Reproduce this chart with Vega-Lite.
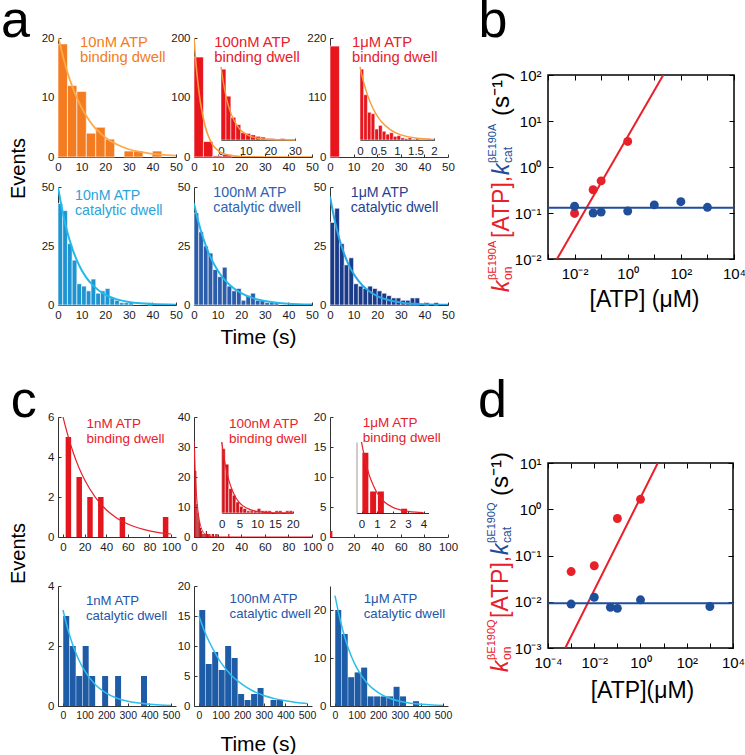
{
"$schema":"https://vega.github.io/schema/vega-lite/v6.json",
"padding":{"left":0,"top":-6,"right":0,"bottom":0},
"config":{"font":"Liberation Sans","view":{"stroke":null},
"axis":{"labelFont":"Liberation Sans","labelFontSize":11.5,"labelColor":"#1a1a1a","domainColor":"#333","tickColor":"#333","tickSize":-3,"labelPadding":7,"labelFlush":false,"labelOverlap":false,"grid":false,"tickCount":20,"titleFont":"Liberation Sans","titleFontWeight":"normal","titleColor":"#000"},
"title":{"font":"Liberation Sans","fontWeight":"normal","color":"#000"},
"text":{"font":"Liberation Sans"}},
"datasets":{
"a1b":[{"t0":0,"t1":4,"n":19},{"t0":4,"t1":8,"n":12},{"t0":8,"t1":12,"n":11},{"t0":12,"t1":16,"n":4},{"t0":16,"t1":20,"n":5},{"t0":20,"t1":24,"n":3},{"t0":28,"t1":32,"n":1},{"t0":32,"t1":36,"n":1},{"t0":40,"t1":44,"n":1}],
"a1f":[{"t":0,"n":20.5},{"t":2.5,"n":16.3},{"t":5,"n":13.0},{"t":7.5,"n":10.4},{"t":10,"n":8.3},{"t":12.5,"n":6.6},{"t":15,"n":5.2},{"t":17.5,"n":4.2},{"t":20,"n":3.3},{"t":25,"n":2.1},{"t":30,"n":1.3},{"t":35,"n":0.85},{"t":40,"n":0.54},{"t":45,"n":0.34},{"t":50,"n":0.22}],
"a2b":[{"t0":0,"t1":4,"n":168},{"t0":4,"t1":8,"n":26},{"t0":8,"t1":12,"n":2},{"t0":12,"t1":16,"n":4}],
"a2f":[{"t":0,"n":200},{"t":1,"n":150},{"t":2,"n":113},{"t":3,"n":85},{"t":4,"n":64},{"t":5,"n":48},{"t":6,"n":36},{"t":8,"n":20},{"t":10,"n":11.5},{"t":12,"n":6.5},{"t":15,"n":2.8},{"t":20,"n":0.7},{"t":30,"n":0.05},{"t":50,"n":0}],
"a2i":[{"t0":0,"t1":2,"n":97},{"t0":2,"t1":4,"n":60},{"t0":4,"t1":6,"n":31},{"t0":6,"t1":8,"n":21},{"t0":8,"t1":10,"n":10},{"t0":10,"t1":12,"n":9},{"t0":12,"t1":14,"n":7},{"t0":14,"t1":16,"n":5},{"t0":16,"t1":18,"n":4},{"t0":18,"t1":20,"n":2},{"t0":20,"t1":22,"n":2},{"t0":22,"t1":24,"n":1},{"t0":24,"t1":26,"n":2},{"t0":26,"t1":28,"n":1},{"t0":28,"t1":30,"n":1}],
"a2if":[{"t":0,"n":100},{"t":1,"n":77.9},{"t":2,"n":60.7},{"t":3,"n":47.2},{"t":4,"n":36.8},{"t":6,"n":22.3},{"t":8,"n":13.5},{"t":10,"n":8.2},{"t":12,"n":5.0},{"t":15,"n":2.4},{"t":20,"n":0.7},{"t":25,"n":0.2},{"t":30,"n":0.05}],
"a3b":[{"t0":0,"t1":4,"n":205}],
"a3i":[{"t0":0,"t1":0.1,"n":97},{"t0":0.1,"t1":0.2,"n":62},{"t0":0.2,"t1":0.3,"n":38},{"t0":0.3,"t1":0.4,"n":36},{"t0":0.4,"t1":0.5,"n":15},{"t0":0.5,"t1":0.6,"n":20},{"t0":0.6,"t1":0.7,"n":12},{"t0":0.7,"t1":0.8,"n":8},{"t0":0.8,"t1":0.9,"n":10},{"t0":0.9,"t1":1.0,"n":5},{"t0":1.0,"t1":1.1,"n":6},{"t0":1.1,"t1":1.2,"n":3},{"t0":1.2,"t1":1.3,"n":2},{"t0":1.3,"t1":1.4,"n":3},{"t0":1.4,"t1":1.5,"n":1},{"t0":1.5,"t1":1.6,"n":2},{"t0":1.6,"t1":1.7,"n":1},{"t0":1.7,"t1":1.8,"n":1},{"t0":1.8,"t1":1.9,"n":2},{"t0":1.9,"t1":2.0,"n":1}],
"a3if":[{"t":0,"n":100},{"t":0.1,"n":78.8},{"t":0.2,"n":62.1},{"t":0.3,"n":49.0},{"t":0.4,"n":38.6},{"t":0.5,"n":30.4},{"t":0.6,"n":24.0},{"t":0.8,"n":14.9},{"t":1.0,"n":9.2},{"t":1.2,"n":5.7},{"t":1.5,"n":2.8},{"t":2.0,"n":0.85}],
"a4b":[{"t0":0,"t1":2,"n":43},{"t0":2,"t1":4,"n":40},{"t0":4,"t1":6,"n":26},{"t0":6,"t1":8,"n":19},{"t0":8,"t1":10,"n":9},{"t0":10,"t1":12,"n":8},{"t0":12,"t1":14,"n":6},{"t0":14,"t1":16,"n":11},{"t0":16,"t1":18,"n":5},{"t0":18,"t1":20,"n":6},{"t0":20,"t1":22,"n":7},{"t0":22,"t1":24,"n":3},{"t0":24,"t1":26,"n":2},{"t0":26,"t1":28,"n":1},{"t0":28,"t1":30,"n":1},{"t0":30,"t1":32,"n":1},{"t0":38,"t1":40,"n":1}],
"a4f":[{"t":0,"n":50},{"t":2,"n":39.2},{"t":4,"n":30.7},{"t":6,"n":24.1},{"t":8,"n":18.9},{"t":10,"n":14.8},{"t":12,"n":11.6},{"t":15,"n":8.1},{"t":20,"n":4.4},{"t":25,"n":2.4},{"t":30,"n":1.3},{"t":35,"n":0.7},{"t":40,"n":0.38},{"t":50,"n":0.11}],
"a5b":[{"t0":0,"t1":2,"n":39},{"t0":2,"t1":4,"n":31},{"t0":4,"t1":6,"n":25},{"t0":6,"t1":8,"n":22},{"t0":8,"t1":10,"n":15},{"t0":10,"t1":12,"n":12},{"t0":12,"t1":14,"n":16},{"t0":14,"t1":16,"n":8},{"t0":16,"t1":18,"n":6},{"t0":18,"t1":20,"n":7},{"t0":20,"t1":22,"n":2},{"t0":22,"t1":24,"n":4},{"t0":24,"t1":26,"n":5},{"t0":26,"t1":28,"n":2},{"t0":28,"t1":30,"n":2},{"t0":30,"t1":32,"n":1},{"t0":32,"t1":34,"n":1},{"t0":34,"t1":36,"n":1}],
"a5f":[{"t":0,"n":43},{"t":2,"n":34.7},{"t":4,"n":28.0},{"t":6,"n":22.6},{"t":8,"n":18.2},{"t":10,"n":14.7},{"t":12,"n":11.8},{"t":15,"n":8.6},{"t":20,"n":5.0},{"t":25,"n":2.9},{"t":30,"n":1.7},{"t":35,"n":1.0},{"t":40,"n":0.58},{"t":50,"n":0.2}],
"a6b":[{"t0":0,"t1":2,"n":35},{"t0":2,"t1":4,"n":41},{"t0":4,"t1":6,"n":26},{"t0":6,"t1":8,"n":17},{"t0":8,"t1":10,"n":20},{"t0":10,"t1":12,"n":9},{"t0":12,"t1":14,"n":8},{"t0":14,"t1":16,"n":7},{"t0":16,"t1":18,"n":8},{"t0":18,"t1":20,"n":7},{"t0":20,"t1":22,"n":6},{"t0":22,"t1":24,"n":5},{"t0":24,"t1":26,"n":4},{"t0":26,"t1":28,"n":3},{"t0":28,"t1":30,"n":3},{"t0":30,"t1":32,"n":2},{"t0":32,"t1":34,"n":2},{"t0":34,"t1":36,"n":3},{"t0":36,"t1":38,"n":3},{"t0":40,"t1":42,"n":1},{"t0":44,"t1":46,"n":1}],
"a6f":[{"t":0,"n":46},{"t":2,"n":35.8},{"t":4,"n":27.9},{"t":6,"n":21.7},{"t":8,"n":16.9},{"t":10,"n":13.2},{"t":12,"n":10.3},{"t":15,"n":7.1},{"t":20,"n":3.8},{"t":25,"n":2.0},{"t":30,"n":1.1},{"t":35,"n":0.58},{"t":40,"n":0.31},{"t":50,"n":0.09}],
"c1b":[{"t":5,"n":5},{"t":15,"n":3},{"t":25,"n":2},{"t":35,"n":2},{"t":55,"n":1},{"t":95,"n":1}],
"c1f":[{"t":0,"n":6},{"t":5,"n":4.99},{"t":10,"n":4.14},{"t":15,"n":3.44},{"t":20,"n":2.86},{"t":30,"n":1.98},{"t":40,"n":1.36},{"t":50,"n":0.94},{"t":60,"n":0.65},{"t":70,"n":0.45},{"t":80,"n":0.31},{"t":90,"n":0.21},{"t":100,"n":0.15}],
"c2b":[{"t0":0,"t1":1,"n":29},{"t0":1,"t1":2,"n":22},{"t0":2,"t1":3,"n":11},{"t0":3,"t1":4,"n":8},{"t0":4,"t1":5,"n":5},{"t0":5,"t1":6,"n":3},{"t0":6,"t1":7,"n":2},{"t0":7,"t1":8,"n":1},{"t0":8,"t1":9,"n":1},{"t0":9,"t1":10,"n":1},{"t0":10,"t1":11,"n":2},{"t0":11,"t1":12,"n":1},{"t0":12,"t1":13,"n":1},{"t0":13,"t1":14,"n":1},{"t0":15,"t1":16,"n":1},{"t0":16,"t1":17,"n":1},{"t0":18,"t1":19,"n":1},{"t0":19,"t1":20,"n":1},{"t0":29,"t1":30,"n":1}],
"c2f":[{"t":0,"n":32},{"t":1,"n":21.8},{"t":2,"n":14.8},{"t":3,"n":10.1},{"t":4,"n":6.9},{"t":5,"n":4.7},{"t":6,"n":3.2},{"t":8,"n":1.5},{"t":10,"n":0.68},{"t":12,"n":0.32},{"t":15,"n":0.1},{"t":20,"n":0.02},{"t":40,"n":0},{"t":100,"n":0}],
"c3b":[{"t0":0,"t1":2,"n":1}],
"c3i":[{"t":0.25,"n":14},{"t":0.75,"n":5},{"t":1.25,"n":5},{"t":2.75,"n":1}],
"c3if":[{"t":0,"n":16.5},{"t":0.25,"n":12.1},{"t":0.5,"n":8.8},{"t":0.75,"n":6.5},{"t":1,"n":4.7},{"t":1.5,"n":2.5},{"t":2,"n":1.35},{"t":2.5,"n":0.72},{"t":3,"n":0.39},{"t":3.5,"n":0.2},{"t":4,"n":0.11}],
"c4b":[{"t":15,"n":3},{"t":45,"n":2},{"t":75,"n":1},{"t":105,"n":2},{"t":135,"n":1},{"t":195,"n":1},{"t":255,"n":1},{"t":375,"n":1}],
"c4f":[{"t":0,"n":3.2},{"t":25,"n":2.49},{"t":50,"n":1.94},{"t":75,"n":1.51},{"t":100,"n":1.18},{"t":150,"n":0.71},{"t":200,"n":0.43},{"t":250,"n":0.26},{"t":300,"n":0.16},{"t":350,"n":0.097},{"t":400,"n":0.059},{"t":450,"n":0.036},{"t":500,"n":0.02}],
"c5b":[{"t":15,"n":16},{"t":45,"n":7},{"t":75,"n":9},{"t":105,"n":6},{"t":135,"n":10},{"t":165,"n":8},{"t":195,"n":2},{"t":225,"n":1},{"t":255,"n":2},{"t":285,"n":3},{"t":345,"n":1},{"t":375,"n":1}],
"c5f":[{"t":0,"n":15},{"t":25,"n":12.5},{"t":50,"n":10.5},{"t":75,"n":8.8},{"t":100,"n":7.3},{"t":150,"n":5.1},{"t":200,"n":3.6},{"t":250,"n":2.5},{"t":300,"n":1.76},{"t":350,"n":1.23},{"t":400,"n":0.86},{"t":450,"n":0.6},{"t":500,"n":0.42}],
"c6b":[{"t":15,"n":20},{"t":45,"n":15},{"t":75,"n":6},{"t":105,"n":7},{"t":135,"n":8},{"t":165,"n":2},{"t":195,"n":2},{"t":225,"n":2},{"t":255,"n":2},{"t":285,"n":4},{"t":315,"n":2},{"t":375,"n":1}],
"c6f":[{"t":0,"n":23},{"t":25,"n":17.7},{"t":50,"n":13.6},{"t":75,"n":10.4},{"t":100,"n":8.0},{"t":150,"n":4.7},{"t":200,"n":2.8},{"t":250,"n":1.66},{"t":300,"n":0.98},{"t":350,"n":0.58},{"t":400,"n":0.34},{"t":450,"n":0.2},{"t":500,"n":0.12}],
"bpts":[{"x":0.01,"y":0.098,"s":"kon"},{"x":0.05,"y":0.32,"s":"kon"},{"x":0.1,"y":0.5,"s":"kon"},{"x":1,"y":3.6,"s":"kon"},{"x":0.01,"y":0.14,"s":"kcat"},{"x":0.05,"y":0.1,"s":"kcat"},{"x":0.1,"y":0.105,"s":"kcat"},{"x":1,"y":0.11,"s":"kcat"},{"x":10,"y":0.15,"s":"kcat"},{"x":100,"y":0.176,"s":"kcat"},{"x":1000,"y":0.133,"s":"kcat"}],
"bfit":[{"x":0.00218,"y":0.01,"s":"kon"},{"x":21.8,"y":100,"s":"kon"},{"x":0.001,"y":0.13,"s":"kcat"},{"x":10000,"y":0.13,"s":"kcat"}],
"dpts":[{"x":0.001,"y":0.045,"s":"kon"},{"x":0.01,"y":0.06,"s":"kon"},{"x":0.1,"y":0.63,"s":"kon"},{"x":1,"y":1.64,"s":"kon"},{"x":0.001,"y":0.0089,"s":"kcat"},{"x":0.01,"y":0.0125,"s":"kcat"},{"x":0.05,"y":0.0076,"s":"kcat"},{"x":0.1,"y":0.0072,"s":"kcat"},{"x":1,"y":0.011,"s":"kcat"},{"x":1000,"y":0.0079,"s":"kcat"}],
"dfit":[{"x":0.00056,"y":0.001,"s":"kon"},{"x":5.6,"y":10,"s":"kon"},{"x":0.0001,"y":0.0093,"s":"kcat"},{"x":10000,"y":0.0093,"s":"kcat"}]
},
"spacing":19,
"hconcat":[
{"concat":[
{"width":118,"height":119,
"layer":[
{"data":{"name":"a1b"},"mark":{"type":"rect","color":"#F47B20","stroke":"#fff","strokeWidth":0.6},"encoding":{"x":{"field":"t0","type":"quantitative","scale":{"domain":[0,50],"nice":false},"axis":{"values":[0,10,20,30,40,50],"tickCount":20,"format":"d","title":null}},"x2":{"field":"t1"},"y":{"field":"n","type":"quantitative","scale":{"domain":[0,20],"nice":false},"axis":{"values":[0,10,20],"tickCount":20,"format":"d","title":null}},"y2":{"datum":0}}},
{"data":{"name":"a1f"},"mark":{"type":"line","color":"#FDAA48","strokeWidth":1.8,"interpolate":"monotone","clip":true},"encoding":{"x":{"field":"t","type":"quantitative"},"y":{"field":"n","type":"quantitative"}}},
{"data":{"values":[{}]},"mark":{"type":"text","align":"left","baseline":"alphabetic","fontSize":14.8,"lineHeight":15,"color":"#F47B20","text":["10nM ATP","binding dwell"]},"encoding":{"x":{"datum":9.3},"y":{"datum":18.5}}},
{"data":{"values":[{}]},"mark":{"type":"text","align":"left","baseline":"alphabetic","fontSize":52,"color":"#000","text":"a"},"encoding":{"x":{"datum":-24.2},"y":{"datum":20.17}}}
]},
{"width":118,"height":119,
"layer":[
{"layer":[
{"data":{"name":"a2b"},"mark":{"type":"rect","color":"#E8151D","stroke":"#fff","strokeWidth":0.6},"encoding":{"x":{"field":"t0","type":"quantitative","scale":{"domain":[0,50],"nice":false},"axis":{"values":[0,10,20,30,40,50],"tickCount":20,"format":"d","title":null}},"x2":{"field":"t1"},"y":{"field":"n","type":"quantitative","scale":{"domain":[0,200],"nice":false},"axis":{"values":[0,100,200],"tickCount":20,"format":"d","title":null}},"y2":{"datum":0}}},
{"data":{"name":"a2f"},"mark":{"type":"line","color":"#F89B3A","strokeWidth":1.6,"interpolate":"monotone","clip":true},"encoding":{"x":{"field":"t","type":"quantitative"},"y":{"field":"n","type":"quantitative"}}},
{"data":{"values":[{}]},"mark":{"type":"text","align":"left","baseline":"alphabetic","fontSize":14.8,"lineHeight":15,"color":"#E8202A","text":["100nM ATP","binding dwell"]},"encoding":{"x":{"datum":8.6},"y":{"datum":185}}}
]},
{"layer":[
{"data":{"name":"a2i"},"mark":{"type":"rect","color":"#E8151D","stroke":"#fff","strokeWidth":0.5},"encoding":{"x":{"field":"t0","type":"quantitative","scale":{"domain":[0,30],"range":[27,101],"nice":false},"axis":{"orient":"bottom","offset":-17,"values":[0,10,20,30],"tickCount":20,"title":null,"tickSize":-2,"labelOverlap":false,"format":"~r"}},"x2":{"field":"t1"},"y":{"field":"n","type":"quantitative","scale":{"domain":[0,100],"range":[102,29],"nice":false},"axis":{"orient":"left","offset":-27,"labels":false,"ticks":false,"title":null,"domainColor":"#999"}},"y2":{"datum":0}}},
{"data":{"name":"a2if"},"mark":{"type":"line","color":"#F89B3A","strokeWidth":1.4,"interpolate":"monotone"},"encoding":{"x":{"field":"t","type":"quantitative"},"y":{"field":"n","type":"quantitative"}}}
]}
],
"resolve":{"scale":{"x":"independent","y":"independent"}}},
{"width":118,"height":119,
"layer":[
{"layer":[
{"data":{"name":"a3b"},"mark":{"type":"rect","color":"#E8151D","stroke":"#fff","strokeWidth":0.6},"encoding":{"x":{"field":"t0","type":"quantitative","scale":{"domain":[0,50],"nice":false},"axis":{"values":[0,10,20,30,40,50],"tickCount":20,"format":"d","title":null}},"x2":{"field":"t1"},"y":{"field":"n","type":"quantitative","scale":{"domain":[0,220],"nice":false},"axis":{"values":[0,110,220],"tickCount":20,"format":"d","title":null}},"y2":{"datum":0}}},
{"data":{"values":[{}]},"mark":{"type":"text","align":"left","baseline":"alphabetic","fontSize":14.8,"lineHeight":15,"color":"#E8202A","text":["1μM ATP","binding dwell"]},"encoding":{"x":{"datum":9.3},"y":{"datum":204}}}
]},
{"layer":[
{"data":{"name":"a3i"},"mark":{"type":"rect","color":"#E8151D","stroke":"#fff","strokeWidth":0.5},"encoding":{"x":{"field":"t0","type":"quantitative","scale":{"domain":[0,2],"range":[30,104],"nice":false},"axis":{"orient":"bottom","offset":-17,"values":[0,0.5,1,1.5,2],"tickCount":20,"title":null,"tickSize":-2,"labelOverlap":false,"format":"~r"}},"x2":{"field":"t1"},"y":{"field":"n","type":"quantitative","scale":{"domain":[0,100],"range":[102,29],"nice":false},"axis":{"orient":"left","offset":-30,"labels":false,"ticks":false,"title":null,"domainColor":"#999"}},"y2":{"datum":0}}},
{"data":{"name":"a3if"},"mark":{"type":"line","color":"#F89B3A","strokeWidth":1.4,"interpolate":"monotone"},"encoding":{"x":{"field":"t","type":"quantitative"},"y":{"field":"n","type":"quantitative"}}}
]}
],
"resolve":{"scale":{"x":"independent","y":"independent"}}},
{"width":118,"height":10,"data":{"values":[]},"mark":"point","encoding":{}},
{"width":118,"height":10,"data":{"values":[]},"mark":"point","encoding":{}},
{"width":118,"height":10,"data":{"values":[]},"mark":"point","encoding":{}},
{"width":118,"height":118,
"layer":[
{"data":{"name":"a4b"},"mark":{"type":"rect","color":"#1E94D2","stroke":"#fff","strokeWidth":0.6},"encoding":{"x":{"field":"t0","type":"quantitative","scale":{"domain":[0,50],"nice":false},"axis":{"values":[0,10,20,30,40,50],"tickCount":20,"format":"d","title":null}},"x2":{"field":"t1"},"y":{"field":"n","type":"quantitative","scale":{"domain":[0,50],"nice":false},"axis":{"values":[0,25,50],"tickCount":20,"format":"d","title":"Events","titleX":-34,"titleY":-19,"titleAngle":270,"titleAlign":"center","titleBaseline":"alphabetic","titleFontSize":20}},"y2":{"datum":0}}},
{"data":{"name":"a4f"},"mark":{"type":"line","color":"#25B8EA","strokeWidth":2,"interpolate":"monotone","clip":true},"encoding":{"x":{"field":"t","type":"quantitative"},"y":{"field":"n","type":"quantitative"}}},
{"data":{"values":[{}]},"mark":{"type":"text","align":"left","baseline":"alphabetic","fontSize":14.2,"lineHeight":15,"color":"#2AA3DB","text":["10nM ATP","catalytic dwell"]},"encoding":{"x":{"datum":7.2},"y":{"datum":44.5}}}
]},
{"width":118,"height":118,
"layer":[
{"data":{"name":"a5b"},"mark":{"type":"rect","color":"#2B5DAA","stroke":"#fff","strokeWidth":0.6},"encoding":{"x":{"field":"t0","type":"quantitative","scale":{"domain":[0,50],"nice":false},"axis":{"values":[0,10,20,30,40,50],"tickCount":20,"format":"d","title":"Time (s)","titleX":64,"titleY":38,"titleAlign":"center","titleBaseline":"alphabetic","titleFontSize":21}},"x2":{"field":"t1"},"y":{"field":"n","type":"quantitative","scale":{"domain":[0,50],"nice":false},"axis":{"values":[0,25,50],"tickCount":20,"format":"d","title":null}},"y2":{"datum":0}}},
{"data":{"name":"a5f"},"mark":{"type":"line","color":"#25B8EA","strokeWidth":2,"interpolate":"monotone","clip":true},"encoding":{"x":{"field":"t","type":"quantitative"},"y":{"field":"n","type":"quantitative"}}},
{"data":{"values":[{}]},"mark":{"type":"text","align":"left","baseline":"alphabetic","fontSize":14.2,"lineHeight":15,"color":"#2D62B2","text":["100nM ATP","catalytic dwell"]},"encoding":{"x":{"datum":8.2},"y":{"datum":45.6}}}
]},
{"width":118,"height":118,
"layer":[
{"data":{"name":"a6b"},"mark":{"type":"rect","color":"#1A3A8A","stroke":"#fff","strokeWidth":0.6},"encoding":{"x":{"field":"t0","type":"quantitative","scale":{"domain":[0,50],"nice":false},"axis":{"values":[0,10,20,30,40,50],"tickCount":20,"format":"d","title":null}},"x2":{"field":"t1"},"y":{"field":"n","type":"quantitative","scale":{"domain":[0,50],"nice":false},"axis":{"values":[0,25,50],"tickCount":20,"format":"d","title":null}},"y2":{"datum":0}}},
{"data":{"name":"a6f"},"mark":{"type":"line","color":"#28A8E5","strokeWidth":2,"interpolate":"monotone","clip":true},"encoding":{"x":{"field":"t","type":"quantitative"},"y":{"field":"n","type":"quantitative"}}},
{"data":{"values":[{}]},"mark":{"type":"text","align":"left","baseline":"alphabetic","fontSize":14.2,"lineHeight":15,"color":"#1F3F95","text":["1μM ATP","catalytic dwell"]},"encoding":{"x":{"datum":8.8},"y":{"datum":45.9}}}
]},
{"width":118,"height":92,"data":{"values":[]},"mark":"point","encoding":{}},
{"width":118,"height":92,"data":{"values":[]},"mark":"point","encoding":{}},
{"width":118,"height":92,"data":{"values":[]},"mark":"point","encoding":{}},
{"width":118,"height":120,
"layer":[
{"data":{"name":"c1b"},"mark":{"type":"bar","color":"#E3161E","size":5.5},"encoding":{"x":{"field":"t","type":"quantitative","scale":{"domain":[0,100],"nice":false},"axis":{"values":[0,20,40,60,80,100],"tickCount":20,"format":"d","title":null}},"y":{"field":"n","type":"quantitative","scale":{"domain":[0,6],"nice":false},"axis":{"values":[0,2,4,6],"tickCount":20,"format":"d","title":null}}}},
{"data":{"name":"c1f"},"mark":{"type":"line","color":"#E8202A","strokeWidth":1.2,"interpolate":"monotone","clip":true},"encoding":{"x":{"field":"t","type":"quantitative"},"y":{"field":"n","type":"quantitative"}}},
{"data":{"values":[{}]},"mark":{"type":"text","align":"left","baseline":"alphabetic","fontSize":13.5,"lineHeight":15,"color":"#E8202A","text":["1nM ATP","binding dwell"]},"encoding":{"x":{"datum":21.8},"y":{"datum":5.47}}},
{"data":{"values":[{}]},"mark":{"type":"text","align":"left","baseline":"alphabetic","fontSize":52,"color":"#000","text":"c"},"encoding":{"x":{"datum":-48.3},"y":{"datum":6}}}
]},
{"width":118,"height":120,
"layer":[
{"layer":[
{"data":{"name":"c2b"},"mark":{"type":"rect","color":"#B3121A"},"encoding":{"x":{"field":"t0","type":"quantitative","scale":{"domain":[0,100],"nice":false},"axis":{"values":[0,20,40,60,80,100],"tickCount":20,"format":"d","title":null}},"x2":{"field":"t1"},"y":{"field":"n","type":"quantitative","scale":{"domain":[0,40],"nice":false},"axis":{"values":[0,10,20,30,40],"tickCount":20,"format":"d","title":null}},"y2":{"datum":0}}},
{"data":{"name":"c2f"},"mark":{"type":"line","color":"#E8202A","strokeWidth":1,"interpolate":"monotone","clip":true},"encoding":{"x":{"field":"t","type":"quantitative"},"y":{"field":"n","type":"quantitative"}}},
{"data":{"values":[{}]},"mark":{"type":"text","align":"left","baseline":"alphabetic","fontSize":13.5,"lineHeight":15,"color":"#E8202A","text":["100nM ATP","binding dwell"]},"encoding":{"x":{"datum":29.7},"y":{"datum":36.4}}}
]},
{"layer":[
{"data":{"name":"c2b"},"transform":[{"filter":"datum.t1 <= 20"}],"mark":{"type":"rect","color":"#D3141C","stroke":"#fff","strokeWidth":0.5},"encoding":{"x":{"field":"t0","type":"quantitative","scale":{"domain":[0,20],"range":[27.7,98.7],"nice":false},"axis":{"orient":"bottom","offset":-24,"values":[0,5,10,15,20],"tickCount":20,"title":null,"tickSize":-2,"labelOverlap":false,"format":"~r"}},"x2":{"field":"t1"},"y":{"field":"n","type":"quantitative","scale":{"domain":[0,32],"range":[96,25],"nice":false},"axis":{"orient":"left","offset":-27.7,"labels":false,"ticks":false,"title":null,"domainColor":"#999"}},"y2":{"datum":0}}},
{"data":{"name":"c2f"},"transform":[{"filter":"datum.t <= 20"}],"mark":{"type":"line","color":"#E8202A","strokeWidth":1.2,"interpolate":"monotone"},"encoding":{"x":{"field":"t","type":"quantitative"},"y":{"field":"n","type":"quantitative"}}}
]}
],
"resolve":{"scale":{"x":"independent","y":"independent"}}},
{"width":118,"height":120,
"layer":[
{"layer":[
{"data":{"name":"c3b"},"mark":{"type":"rect","color":"#E3161E"},"encoding":{"x":{"field":"t0","type":"quantitative","scale":{"domain":[0,100],"nice":false},"axis":{"values":[0,20,40,60,80,100],"tickCount":20,"format":"d","title":null}},"x2":{"field":"t1"},"y":{"field":"n","type":"quantitative","scale":{"domain":[0,20],"nice":false},"axis":{"values":[0,5,10,15,20],"tickCount":20,"format":"d","title":null}},"y2":{"datum":0}}},
{"data":{"values":[{}]},"mark":{"type":"text","align":"left","baseline":"alphabetic","fontSize":13.5,"lineHeight":15,"color":"#E8202A","text":["1μM ATP","binding dwell"]},"encoding":{"x":{"datum":27.7},"y":{"datum":18.4}}}
]},
{"layer":[
{"data":{"name":"c3i"},"mark":{"type":"bar","color":"#E3161E","size":6},"encoding":{"x":{"field":"t","type":"quantitative","scale":{"domain":[0,4],"range":[26.5,98.5],"nice":false},"axis":{"orient":"bottom","offset":-24,"values":[0,1,2,3,4],"tickCount":20,"title":null,"tickSize":-2,"labelOverlap":false,"format":"~r"}},"y":{"field":"n","type":"quantitative","scale":{"domain":[0,16.5],"range":[96,25],"nice":false},"axis":{"orient":"left","offset":-26.5,"labels":false,"ticks":false,"title":null,"domainColor":"#999"}}}},
{"data":{"name":"c3if"},"mark":{"type":"line","color":"#E8202A","strokeWidth":1.2,"interpolate":"monotone"},"encoding":{"x":{"field":"t","type":"quantitative"},"y":{"field":"n","type":"quantitative"}}}
]}
],
"resolve":{"scale":{"x":"independent","y":"independent"}}},
{"width":118,"height":29,"data":{"values":[]},"mark":"point","encoding":{}},
{"width":118,"height":29,"data":{"values":[]},"mark":"point","encoding":{}},
{"width":118,"height":29,"data":{"values":[]},"mark":"point","encoding":{}},
{"width":118,"height":120,
"layer":[
{"data":{"name":"c4b"},"mark":{"type":"bar","color":"#1F5CA8","size":6},"encoding":{"x":{"field":"t","type":"quantitative","scale":{"domain":[0,500],"nice":false},"axis":{"values":[0,100,200,300,400,500],"tickCount":20,"format":"d","labelFontSize":10.5,"title":null}},"y":{"field":"n","type":"quantitative","scale":{"domain":[0,4],"nice":false},"axis":{"values":[0,2,4],"tickCount":20,"format":"d","title":"Events","titleX":-34,"titleY":-33,"titleAngle":270,"titleAlign":"center","titleBaseline":"alphabetic","titleFontSize":20}}}},
{"data":{"name":"c4f"},"mark":{"type":"line","color":"#2DBDEB","strokeWidth":1.5,"interpolate":"monotone","clip":true},"encoding":{"x":{"field":"t","type":"quantitative"},"y":{"field":"n","type":"quantitative"}}},
{"data":{"values":[{}]},"mark":{"type":"text","align":"left","baseline":"alphabetic","fontSize":13.2,"lineHeight":15,"color":"#2456A8","text":["1nM ATP","catalytic dwell"]},"encoding":{"x":{"datum":106},"y":{"datum":3.37}}}
]},
{"width":118,"height":120,
"layer":[
{"data":{"name":"c5b"},"mark":{"type":"bar","color":"#1F5CA8","size":6},"encoding":{"x":{"field":"t","type":"quantitative","scale":{"domain":[0,500],"nice":false},"axis":{"values":[0,100,200,300,400,500],"tickCount":20,"format":"d","labelFontSize":10.5,"title":"Time (s)","titleX":64,"titleY":44,"titleAlign":"center","titleBaseline":"alphabetic","titleFontSize":21}},"y":{"field":"n","type":"quantitative","scale":{"domain":[0,20],"nice":false},"axis":{"values":[0,5,10,15,20],"tickCount":20,"format":"d","title":null}}}},
{"data":{"name":"c5f"},"mark":{"type":"line","color":"#2DBDEB","strokeWidth":1.5,"interpolate":"monotone","clip":true},"encoding":{"x":{"field":"t","type":"quantitative"},"y":{"field":"n","type":"quantitative"}}},
{"data":{"values":[{}]},"mark":{"type":"text","align":"left","baseline":"alphabetic","fontSize":13.2,"lineHeight":15,"color":"#2456A8","text":["100nM ATP","catalytic dwell"]},"encoding":{"x":{"datum":141.6},"y":{"datum":17.1}}}
]},
{"width":118,"height":120,
"layer":[
{"data":{"name":"c6b"},"mark":{"type":"bar","color":"#1F5CA8","size":6},"encoding":{"x":{"field":"t","type":"quantitative","scale":{"domain":[0,500],"nice":false},"axis":{"values":[0,100,200,300,400,500],"tickCount":20,"format":"d","labelFontSize":10.5,"title":null}},"y":{"field":"n","type":"quantitative","scale":{"domain":[0,25],"nice":false},"axis":{"values":[0,10,20],"tickCount":20,"format":"d","title":null}}}},
{"data":{"name":"c6f"},"mark":{"type":"line","color":"#2DBDEB","strokeWidth":1.5,"interpolate":"monotone","clip":true},"encoding":{"x":{"field":"t","type":"quantitative"},"y":{"field":"n","type":"quantitative"}}},
{"data":{"values":[{}]},"mark":{"type":"text","align":"left","baseline":"alphabetic","fontSize":13.2,"lineHeight":15,"color":"#2456A8","text":["1μM ATP","catalytic dwell"]},"encoding":{"x":{"datum":133},"y":{"datum":21.4}}}
]}
],
"columns":3,"bounds":"flush","spacing":{"row":10,"column":18}},
{"vconcat":[
{"width":186,"height":27,"data":{"values":[]},"mark":"point","encoding":{}},
{"width":186,"height":184,
"view":{"stroke":"#000","strokeWidth":1.5},
"layer":[
{"data":{"name":"bfit"},"mark":{"type":"line","strokeWidth":2,"clip":true},"encoding":{
"x":{"field":"x","type":"quantitative","scale":{"type":"log","domain":[0.001,10000],"nice":false},"axis":{"orient":"bottom","values":[0.001,0.01,0.1,1,10,100,1000,10000],"tickCount":20,"labelExpr":"(round(log(datum.value)/LN10) % 2 == 0) ? '10' + ['⁻⁴','⁻³','⁻²','⁻¹','⁰','¹','²','³','⁴'][round(log(datum.value)/LN10)+4] : ''","tickSize":-5,"labelPadding":12,"labelFontSize":15,"labelColor":"#000","domain":false,"tickColor":"#000","title":"[ATP] (μM)","titleX":96,"titleY":47,"titleAlign":"center","titleBaseline":"alphabetic","titleFontSize":23}},
"y":{"field":"y","type":"quantitative","scale":{"type":"log","domain":[0.01,100],"nice":false},"axis":{"orient":"left","values":[0.01,0.1,1,10,100],"tickCount":20,"labelExpr":"'10' + ['⁻⁴','⁻³','⁻²','⁻¹','⁰','¹','²','³','⁴'][round(log(datum.value)/LN10)+4]","tickSize":-5,"labelPadding":12,"labelFontSize":15,"labelColor":"#000","domain":false,"tickColor":"#000","title":null}},
"color":{"field":"s","type":"nominal","scale":{"domain":["kon","kcat"],"range":["#E8202A","#1F4E9A"]},"legend":null}}},
{"data":{"name":"bpts"},"mark":{"type":"circle","size":80,"opacity":1},"encoding":{
"x":{"field":"x","type":"quantitative","axis":{"orient":"top","values":[0.001,0.01,0.1,1,10,100,1000,10000],"tickCount":20,"labels":false,"tickSize":-5,"domain":false,"tickColor":"#000","title":null}},
"y":{"field":"y","type":"quantitative","axis":{"orient":"right","values":[0.01,0.1,1,10,100],"tickCount":20,"labels":false,"tickSize":-5,"domain":false,"tickColor":"#000","title":null}},
"color":{"field":"s","type":"nominal","legend":null}}},
{"data":{"values":[{}]},"mark":{"type":"text","align":"left","baseline":"alphabetic","fontSize":52,"color":"#000","text":"b"},"encoding":{"x":{"datum":2.4e-6,"axis":null},"y":{"datum":670,"axis":null}}},
{"data":{"values":[{}]},"mark":{"type":"text","angle":270,"align":"left","baseline":"alphabetic","fontSize":23,"fontStyle":"italic","color":"#E8202A","text":"k"},"encoding":{"x":{"datum":3.29e-5,"axis":null},"y":{"datum":0.00192,"axis":null}}},
{"data":{"values":[{}]},"mark":{"type":"text","angle":270,"align":"left","baseline":"alphabetic","fontSize":11,"dy":-13,"color":"#E8202A","text":"βE190A"},"encoding":{"x":{"datum":3.29e-5,"axis":null},"y":{"datum":0.00349,"axis":null}}},
{"data":{"values":[{}]},"mark":{"type":"text","angle":270,"align":"left","baseline":"alphabetic","fontSize":12,"dy":3,"color":"#E8202A","text":"on"},"encoding":{"x":{"datum":3.29e-5,"axis":null},"y":{"datum":0.00349,"axis":null}}},
{"data":{"values":[{}]},"mark":{"type":"text","angle":270,"align":"left","baseline":"alphabetic","fontSize":23,"color":"#E8202A","text":"[ATP],"},"encoding":{"x":{"datum":3.29e-5,"axis":null},"y":{"datum":0.0286,"axis":null}}},
{"data":{"values":[{}]},"mark":{"type":"text","angle":270,"align":"left","baseline":"alphabetic","fontSize":23,"fontStyle":"italic","color":"#1F4E9A","text":"k"},"encoding":{"x":{"datum":3.29e-5,"axis":null},"y":{"datum":0.67,"axis":null}}},
{"data":{"values":[{}]},"mark":{"type":"text","angle":270,"align":"left","baseline":"alphabetic","fontSize":11,"dy":-13,"color":"#1F4E9A","text":"βE190A"},"encoding":{"x":{"datum":3.29e-5,"axis":null},"y":{"datum":1.22,"axis":null}}},
{"data":{"values":[{}]},"mark":{"type":"text","angle":270,"align":"left","baseline":"alphabetic","fontSize":12,"dy":3,"color":"#1F4E9A","text":"cat"},"encoding":{"x":{"datum":3.29e-5,"axis":null},"y":{"datum":1.22,"axis":null}}},
{"data":{"values":[{}]},"mark":{"type":"text","angle":270,"align":"left","baseline":"alphabetic","fontSize":24,"color":"#000","text":"(s⁻¹)"},"encoding":{"x":{"datum":3.29e-5,"axis":null},"y":{"datum":12.8,"axis":null}}}
],
"resolve":{"axis":{"x":"independent","y":"independent"}}},
{"width":186,"height":184,"data":{"values":[]},"mark":"point","encoding":{}},
{"width":185,"height":185,
"view":{"stroke":"#000","strokeWidth":1.5},
"layer":[
{"data":{"name":"dfit"},"mark":{"type":"line","strokeWidth":2,"clip":true},"encoding":{
"x":{"field":"x","type":"quantitative","scale":{"type":"log","domain":[0.0001,10000],"nice":false},"axis":{"orient":"bottom","values":[0.0001,0.001,0.01,0.1,1,10,100,1000,10000],"tickCount":20,"labelExpr":"(round(log(datum.value)/LN10) % 2 == 0) ? '10' + ['⁻⁴','⁻³','⁻²','⁻¹','⁰','¹','²','³','⁴'][round(log(datum.value)/LN10)+4] : ''","tickSize":-5,"labelPadding":12,"labelFontSize":15,"labelColor":"#000","domain":false,"tickColor":"#000","title":"[ATP](μM)","titleX":94,"titleY":49,"titleAlign":"center","titleBaseline":"alphabetic","titleFontSize":23}},
"y":{"field":"y","type":"quantitative","scale":{"type":"log","domain":[0.001,10],"nice":false},"axis":{"orient":"left","values":[0.001,0.01,0.1,1,10],"tickCount":20,"labelExpr":"'10' + ['⁻⁴','⁻³','⁻²','⁻¹','⁰','¹','²','³','⁴'][round(log(datum.value)/LN10)+4]","tickSize":-5,"labelPadding":12,"labelFontSize":15,"labelColor":"#000","domain":false,"tickColor":"#000","title":null}},
"color":{"field":"s","type":"nominal","scale":{"domain":["kon","kcat"],"range":["#E8202A","#1F4E9A"]},"legend":null}}},
{"data":{"name":"dpts"},"mark":{"type":"circle","size":80,"opacity":1},"encoding":{
"x":{"field":"x","type":"quantitative","axis":{"orient":"top","values":[0.0001,0.001,0.01,0.1,1,10,100,1000,10000],"tickCount":20,"labels":false,"tickSize":-5,"domain":false,"tickColor":"#000","title":null}},
"y":{"field":"y","type":"quantitative","axis":{"orient":"right","values":[0.001,0.01,0.1,1,10],"tickCount":20,"labels":false,"tickSize":-5,"domain":false,"tickColor":"#000","title":null}},
"color":{"field":"s","type":"nominal","legend":null}}},
{"data":{"values":[{}]},"mark":{"type":"text","align":"left","baseline":"alphabetic","fontSize":52,"color":"#000","text":"d"},"encoding":{"x":{"datum":9.3e-8,"axis":null},"y":{"datum":98.9,"axis":null}}},
{"data":{"values":[{}]},"mark":{"type":"text","angle":270,"align":"left","baseline":"alphabetic","fontSize":23,"fontStyle":"italic","color":"#E8202A","text":"k"},"encoding":{"x":{"datum":1.85e-6,"axis":null},"y":{"datum":0.000303,"axis":null}}},
{"data":{"values":[{}]},"mark":{"type":"text","angle":270,"align":"left","baseline":"alphabetic","fontSize":11,"dy":-13,"color":"#E8202A","text":"βE190Q"},"encoding":{"x":{"datum":1.85e-6,"axis":null},"y":{"datum":0.00055,"axis":null}}},
{"data":{"values":[{}]},"mark":{"type":"text","angle":270,"align":"left","baseline":"alphabetic","fontSize":12,"dy":3,"color":"#E8202A","text":"on"},"encoding":{"x":{"datum":1.85e-6,"axis":null},"y":{"datum":0.00055,"axis":null}}},
{"data":{"values":[{}]},"mark":{"type":"text","angle":270,"align":"left","baseline":"alphabetic","fontSize":23,"color":"#E8202A","text":"[ATP],"},"encoding":{"x":{"datum":1.85e-6,"axis":null},"y":{"datum":0.00445,"axis":null}}},
{"data":{"values":[{}]},"mark":{"type":"text","angle":270,"align":"left","baseline":"alphabetic","fontSize":23,"fontStyle":"italic","color":"#1F4E9A","text":"k"},"encoding":{"x":{"datum":1.85e-6,"axis":null},"y":{"datum":0.1026,"axis":null}}},
{"data":{"values":[{}]},"mark":{"type":"text","angle":270,"align":"left","baseline":"alphabetic","fontSize":11,"dy":-13,"color":"#1F4E9A","text":"βE190Q"},"encoding":{"x":{"datum":1.85e-6,"axis":null},"y":{"datum":0.186,"axis":null}}},
{"data":{"values":[{}]},"mark":{"type":"text","angle":270,"align":"left","baseline":"alphabetic","fontSize":12,"dy":3,"color":"#1F4E9A","text":"cat"},"encoding":{"x":{"datum":1.85e-6,"axis":null},"y":{"datum":0.186,"axis":null}}},
{"data":{"values":[{}]},"mark":{"type":"text","angle":270,"align":"left","baseline":"alphabetic","fontSize":24,"color":"#000","text":"(s⁻¹)"},"encoding":{"x":{"datum":1.85e-6,"axis":null},"y":{"datum":1.93,"axis":null}}}
],
"resolve":{"axis":{"x":"independent","y":"independent"}}}
],
"bounds":"flush","spacing":10}
]
}
